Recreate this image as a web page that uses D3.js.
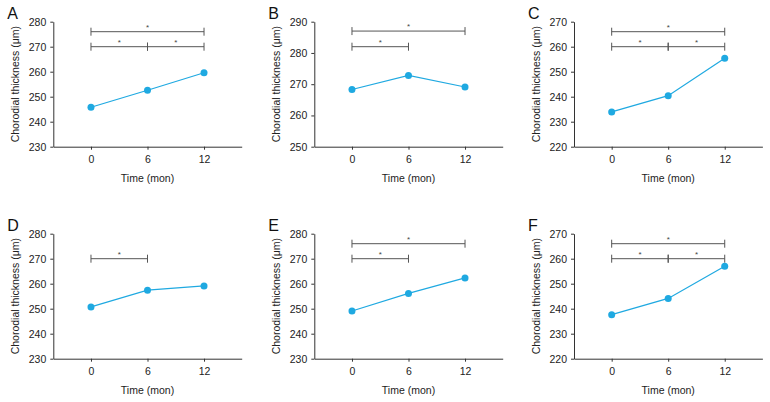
<!DOCTYPE html>
<html>
<head>
<meta charset="utf-8">
<script src="https://cdn.jsdelivr.net/npm/d3@7"></script>
<style>
  body { margin: 0; background: #fff; }
  svg { font-family: "Liberation Sans", Arial, sans-serif; }
  .axis path, .axis line { stroke: #333; }
  .axis text { fill: #222; font-size: 10.5px; }
</style>
</head>
<body>
<script>
const months = [0, 6, 12];
const panelNames = ['A', 'B', 'C', 'D', 'E', 'F'];

// mean choroidal thickness at 0, 6, 12 months
const thickA = [245.8, 252.6, 259.6];
const thickB = [268.3, 272.8, 269.1];
const thickC = [233.9, 240.4, 255.4];
const thickD = [250.7, 257.4, 259.1];
const thickE = [249.1, 256.1, 262.3];
const thickF = [237.6, 244.1, 257.0];

const yRangeA = [230, 280];
const yRangeB = [250, 290];
const yRangeC = [220, 270];
const yRangeD = [230, 280];
const yRangeE = [230, 280];
const yRangeF = [220, 270];

// significance brackets: [from, to, level]
const sigA = [[0, 12, 276], [0, 6, 270], [6, 12, 270]];
const sigB = [[0, 12, 287], [0, 6, 282]];
const sigC = [[0, 12, 266], [0, 6, 260], [6, 12, 260]];
const sigD = [[0, 6, 270]];
const sigE = [[0, 12, 276], [0, 6, 270]];
const sigF = [[0, 12, 266], [0, 6, 260], [6, 12, 260]];

const allThick = [thickA, thickB, thickC, thickD, thickE, thickF];
const allRanges = [yRangeA, yRangeB, yRangeC, yRangeD, yRangeE, yRangeF];
const allSig = [sigA, sigB, sigC, sigD, sigE, sigF];

const width = 770, height = 402;
const pw = 188.4, ph = 125;
const colX = [53.3, 314.3, 574];
const rowY = [21.7, 233.7];
const blue = '#1fa9e1';

const svg = d3.select('body').append('svg')
  .attr('width', width)
  .attr('height', height);

const x = d3.scaleLinear().domain([-4, 16]).range([0, pw]);

panelNames.forEach((name, i) => {
  const g = svg.append('g')
    .attr('transform', `translate(${colX[i % 3]},${rowY[Math.floor(i / 3)]})`);

  const y = d3.scaleLinear().domain(allRanges[i]).range([ph, 0]);

  g.append('g')
    .attr('class', 'axis')
    .call(d3.axisLeft(y).ticks(5).tickSize(3).tickSizeOuter(0).tickPadding(4));

  g.append('g')
    .attr('class', 'axis')
    .attr('transform', `translate(0,${ph})`)
    .call(d3.axisBottom(x).tickValues(months).tickSize(3).tickSizeOuter(0).tickPadding(6));

  g.append('text')
    .attr('x', -46)
    .attr('y', -3)
    .attr('font-size', 16)
    .attr('fill', '#111')
    .text(name);

  g.append('text')
    .attr('transform', `translate(-34,${ph / 2}) rotate(-90)`)
    .attr('text-anchor', 'middle')
    .attr('font-size', 10.5)
    .attr('fill', '#222')
    .text('Chorodial thickness (μm)');

  g.append('text')
    .attr('x', x(6))
    .attr('y', ph + 35)
    .attr('text-anchor', 'middle')
    .attr('font-size', 10.5)
    .attr('fill', '#222')
    .text('Time (mon)');

  // brackets
  allSig[i].forEach(s => {
    const yy = y(s[2]);
    const b = g.append('g').attr('stroke', '#555').attr('stroke-width', 1);
    b.append('line').attr('x1', x(s[0])).attr('x2', x(s[1])).attr('y1', yy).attr('y2', yy);
    b.append('line').attr('x1', x(s[0])).attr('x2', x(s[0])).attr('y1', yy - 4).attr('y2', yy + 4);
    b.append('line').attr('x1', x(s[1])).attr('x2', x(s[1])).attr('y1', yy - 4).attr('y2', yy + 4);
    g.append('text')
      .attr('x', x((s[0] + s[1]) / 2))
      .attr('y', yy - 2)
      .attr('text-anchor', 'middle')
      .attr('font-size', 8)
      .attr('fill', '#444')
      .text('*');
  });

  const pts = months.map((m, k) => [m, allThick[i][k]]);

  g.append('path')
    .datum(pts)
    .attr('fill', 'none')
    .attr('stroke', blue)
    .attr('stroke-width', 1.2)
    .attr('d', d3.line().x(d => x(d[0])).y(d => y(d[1])));

  g.selectAll('circle')
    .data(pts)
    .enter()
    .append('circle')
    .attr('cx', d => x(d[0]))
    .attr('cy', d => y(d[1]))
    .attr('r', 3.5)
    .attr('fill', blue);
});
</script>
</body>
</html>
